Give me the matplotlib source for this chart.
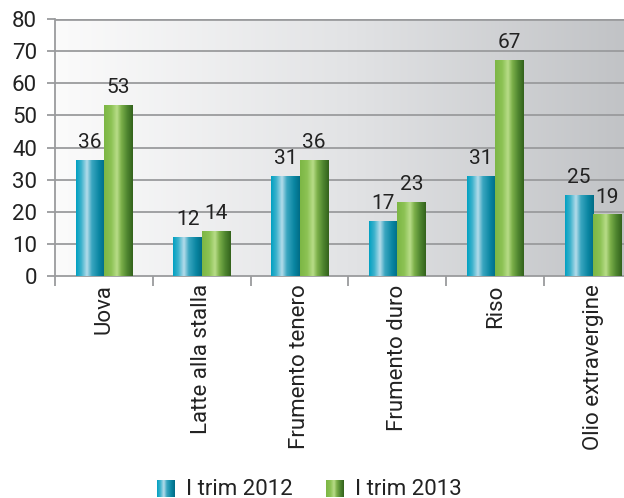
import matplotlib
matplotlib.use("Agg")
import matplotlib.pyplot as plt
import numpy as np
from matplotlib.colors import LinearSegmentedColormap

# Data
categories = ["Uova", "Latte alla stalla", "Frumento tenero", "Frumento duro", "Riso", "Olio extravergine"]
trim_2012 = [36, 12, 31, 17, 31, 25]
trim_2013 = [53, 14, 36, 23, 67, 19]
series_names = ["I trim 2012", "I trim 2013"]

plt.rcParams['font.family'] = ['Roboto', 'DejaVu Sans']

blue_cmap = LinearSegmentedColormap.from_list(
    "blue", [(0, "#00a0c2"), (0.18, "#3cb2cc"), (0.38, "#b4dcea"), (0.55, "#3aa6c0"), (0.8, "#0a86a2"), (1, "#006c86")])
green_cmap = LinearSegmentedColormap.from_list(
    "green", [(0, "#7cb644"), (0.25, "#8cc254"), (0.45, "#b8dc88"), (0.6, "#7cb04a"), (0.8, "#4f8630"), (1, "#33621c")])
bg_cmap = LinearSegmentedColormap.from_list("bg", ["#fbfbfb", "#e2e3e5", "#bfc1c4"])

fig = plt.figure(figsize=(6.24, 4.98), dpi=100)
ax = fig.add_axes([55 / 624, 222 / 498, 587 / 624, 257 / 498])

x = np.arange(len(categories))
w = 0.29

# plot background gradient
grad = np.linspace(0, 1, 256).reshape(1, -1)
ax.imshow(grad, extent=[-0.5, len(categories) - 0.5, 0, 80], aspect='auto', cmap=bg_cmap, zorder=0)

for y in range(10, 81, 10):
    ax.axhline(y, color='#9a9b9d', lw=1.3 if y < 80 else 2, zorder=1)

bars1 = ax.bar(x - w / 2, trim_2012, w, color='none', zorder=2)
bars2 = ax.bar(x + w / 2, trim_2013, w, color='none', zorder=2)

for bars, cmap in ((bars1, blue_cmap), (bars2, green_cmap)):
    for b in bars:
        x0, h = b.get_x(), b.get_height()
        ax.imshow(grad, extent=[x0, x0 + b.get_width(), 0, h], aspect='auto', cmap=cmap, zorder=3)

for bars in (bars1, bars2):
    for b in bars:
        ax.text(b.get_x() + b.get_width() / 2, b.get_height() + 2.6, str(int(b.get_height())),
                ha='center', va='bottom', fontsize=15, color='#222222', zorder=4)

ax.set_xlim(-0.5, len(categories) - 0.5)
ax.set_ylim(0, 80)
ax.set_aspect('auto')
ax.set_yticks(range(0, 81, 10))
ax.tick_params(axis='y', labelsize=16, length=6, width=1.3, color='#9a9b9d', labelcolor='#222222', pad=7)

ax.set_xticks(np.arange(-0.5, len(categories), 1))
ax.set_xticklabels([])
ax.set_xticks(x, minor=True)
ax.set_xticklabels(categories, minor=True, rotation=90, fontsize=16, color='#222222')
ax.tick_params(axis='x', which='major', length=7, width=1.3, color='#9a9b9d')
ax.tick_params(axis='x', which='minor', length=0, pad=6)

for s in ('top', 'right'):
    ax.spines[s].set_visible(False)
for s in ('left', 'bottom'):
    ax.spines[s].set_color('#9a9b9d')
    ax.spines[s].set_linewidth(1.3)

# legend with gradient swatches
for i, (name, cmap) in enumerate(zip(series_names, (blue_cmap, green_cmap))):
    left = [157, 326][i]
    lax = fig.add_axes([left / 624, 1 - 497 / 498, 18 / 624, 17 / 498])
    lax.imshow(grad, aspect='auto', cmap=cmap)
    lax.axis('off')
    fig.text((left + 29) / 624, 1 - 489 / 498, name, fontsize=16, color='#222222', va='center')

fig.savefig("out.png", dpi=100)
